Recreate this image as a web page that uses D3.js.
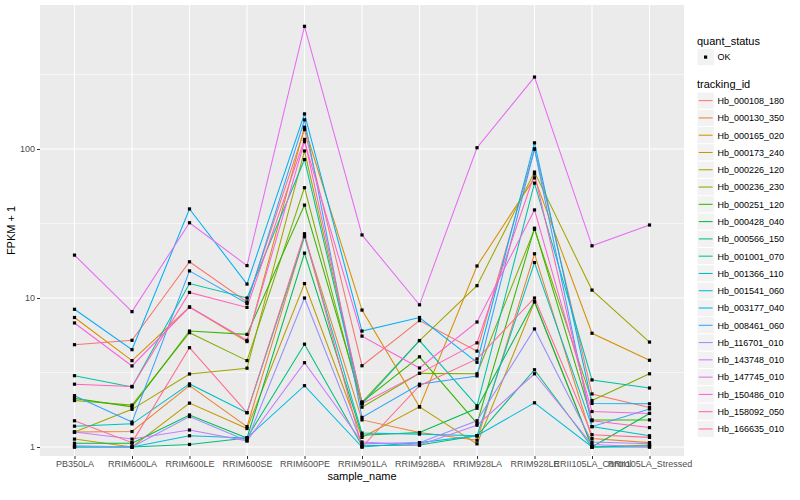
<!DOCTYPE html>
<html>
<head>
<meta charset="utf-8">
<script src="https://cdn.jsdelivr.net/npm/d3@7"></script>
<style>
  body { margin: 0; background: #fff; }
  svg { display: block; font-family: "Liberation Sans", Arial, sans-serif; }
</style>
</head>
<body>
<svg id="chart" width="800" height="500"></svg>
<script>
// samples on the x axis
const samples = ["PB350LA", "RRIM600LA", "RRIM600LE", "RRIM600SE", "RRIM600PE", "RRIM901LA",
  "RRIM928BA", "RRIM928LA", "RRIM928LE", "RRII105LA_Control", "RRII105LA_Stressed"];

const trackingIds = ["Hb_000108_180", "Hb_000130_350", "Hb_000165_020", "Hb_000173_240", "Hb_000226_120",
  "Hb_000236_230", "Hb_000251_120", "Hb_000428_040", "Hb_000566_150", "Hb_001001_070", "Hb_001366_110",
  "Hb_001541_060", "Hb_003177_040", "Hb_008461_060", "Hb_116701_010", "Hb_143748_010", "Hb_147745_010",
  "Hb_150486_010", "Hb_158092_050", "Hb_166635_010"];

// FPKM + 1, one array per tracking_id (same order as samples)
const hb000108_180 = [4.86, 5.2, 17.5, 9.4, 135, 3.51, 7.05, 4.4, 100, 2.27, 1.84];
const hb000130_350 = [1.26, 1.27, 2.58, 1.37, 26, 1.52, 1.25, 1.11, 19.8, 1.14, 1.07];
const hb000165_020 = [7.4, 3.8, 8.7, 5.1, 140, 8.3, 1.86, 16.4, 64, 5.8, 3.82];
const hb000173_240 = [1.13, 1.0, 1.97, 1.33, 12.5, 1.16, 1.86, 1.05, 9.4, 1.0, 1.03];
const hb000226_120 = [1.26, 1.79, 3.09, 3.38, 97, 2.0, 5.18, 12.1, 70, 11.3, 5.06];
const hb000236_230 = [2.05, 1.91, 5.85, 3.8, 55, 1.85, 3.12, 3.1, 28.9, 2.05, 3.1];
const hb000251_120 = [2.12, 1.86, 6.0, 5.7, 42, 2.0, 4.03, 1.44, 29.4, 1.52, 1.52];
const hb000428_040 = [1.06, 1.06, 1.64, 1.15, 20, 1.2, 1.25, 1.82, 9.5, 1.0, 1.68];
const hb000566_150 = [1.0, 1.0, 1.04, 1.15, 4.9, 1.02, 1.03, 1.19, 3.3, 1.0, 1.0];
const hb001001_070 = [3.01, 2.53, 12.5, 10, 85, 1.95, 5.18, 1.89, 59, 2.82, 2.49];
const hb001366_110 = [1.38, 1.43, 2.65, 1.7, 25.8, 1.24, 1.22, 1.19, 17.3, 1.37, 1.19];
const hb001541_060 = [1.0, 1.0, 1.19, 1.15, 2.58, 1.0, 1.07, 1.19, 1.98, 1.0, 1.02];
const hb003177_040 = [8.4, 4.5, 39.6, 12.4, 172, 6.0, 7.4, 3.7, 110, 1.96, 1.95];
const hb008461_060 = [2.21, 1.47, 15.2, 9.2, 157, 1.58, 2.64, 3.0, 100, 1.37, 1.8];
const hb116701_010 = [1.02, 1.0, 1.6, 1.1, 10, 1.05, 1.07, 1.5, 6.2, 1.08, 1.05];
const hb143748_010 = [1.26, 1.13, 1.3, 1.1, 3.68, 1.08, 1.03, 1.4, 3.1, 1.04, 1.0];
const hb147745_010 = [19.4, 8.1, 32, 16.5, 666, 26.5, 9.0, 102, 304, 22.4, 30.9];
const hb150486_010 = [6.8, 3.5, 8.7, 5.2, 112, 5.55, 3.39, 6.9, 39, 1.73, 1.68];
const hb158092_050 = [2.64, 2.55, 10.9, 8.65, 116, 1.95, 3.12, 5.0, 68, 1.5, 1.35];
const hb166635_010 = [1.5, 1.07, 4.64, 1.7, 27, 1.0, 2.58, 3.9, 10, 1.21, 1.16];

const seriesValues = [hb000108_180, hb000130_350, hb000165_020, hb000173_240, hb000226_120,
  hb000236_230, hb000251_120, hb000428_040, hb000566_150, hb001001_070, hb001366_110,
  hb001541_060, hb003177_040, hb008461_060, hb116701_010, hb143748_010, hb147745_010,
  hb150486_010, hb158092_050, hb166635_010];

const yTicks = [1, 10, 100];
const yMinor = [Math.sqrt(10), Math.sqrt(1000), Math.sqrt(100000)];

// ggplot hue palette, 20 levels
const colors = ["#F8766D", "#EA8331", "#D89000", "#C09B00", "#A3A500", "#7CAE00", "#39B600", "#00BB4E",
  "#00BF7D", "#00C1A3", "#00BFC4", "#00BAE0", "#00B0F6", "#35A2FF", "#9590FF", "#C77CFF", "#E76BF3",
  "#FA62DB", "#FF62BC", "#FF6C91"];

const series = trackingIds.map((id, i) => ({
  id: id,
  color: colors[i],
  values: samples.map((s, j) => ({ sample: s, v: seriesValues[i][j] }))
}));

const svg = d3.select("#chart");
const panel = { left: 40, right: 684, top: 5, bottom: 456 };

const x = d3.scalePoint().domain(samples)
  .range([panel.left, panel.right]).padding(0.6);
const y = d3.scaleLog().domain([1, 1000]).range([447, 0]);

// panel background + grid
svg.append("rect")
  .attr("x", panel.left).attr("y", panel.top)
  .attr("width", panel.right - panel.left).attr("height", panel.bottom - panel.top)
  .attr("fill", "#EBEBEB");

const grid = svg.append("g");
yMinor.forEach(t => {
  grid.append("line").attr("x1", panel.left).attr("x2", panel.right)
    .attr("y1", y(t)).attr("y2", y(t)).attr("stroke", "#fff").attr("stroke-width", 0.55);
});
yTicks.forEach(t => {
  grid.append("line").attr("x1", panel.left).attr("x2", panel.right)
    .attr("y1", y(t)).attr("y2", y(t)).attr("stroke", "#fff").attr("stroke-width", 1.1);
});
samples.forEach(s => {
  grid.append("line").attr("x1", x(s)).attr("x2", x(s))
    .attr("y1", panel.top).attr("y2", panel.bottom).attr("stroke", "#fff").attr("stroke-width", 1.1);
});

// lines
const line = d3.line().x(d => x(d.sample)).y(d => y(d.v));
svg.append("g").selectAll("path")
  .data(series)
  .enter()
  .append("path")
  .attr("d", d => line(d.values))
  .attr("fill", "none")
  .attr("stroke", d => d.color)
  .attr("stroke-width", 1.05);

// points
const pts = series.flatMap(d => d.values);
svg.append("g").selectAll("rect")
  .data(pts)
  .enter()
  .append("rect")
  .attr("x", d => x(d.sample) - 1.6)
  .attr("y", d => y(d.v) - 1.6)
  .attr("width", 3.2).attr("height", 3.2)
  .attr("fill", "#000");

// axes
const yAxis = svg.append("g")
  .attr("transform", `translate(${panel.left},0)`)
  .call(d3.axisLeft(y).tickValues(yTicks).tickFormat(d3.format("d")).tickSize(3).tickPadding(2));
const xAxis = svg.append("g")
  .attr("transform", `translate(0,${panel.bottom})`)
  .call(d3.axisBottom(x).tickSize(3).tickPadding(2));
[xAxis, yAxis].forEach(a => {
  a.select(".domain").remove();
  a.selectAll(".tick line").attr("stroke", "#333").attr("stroke-width", 1);
  a.selectAll(".tick text").attr("fill", "#4D4D4D")
    .style("font-size", "9px").style("font-family", "Liberation Sans, Arial, sans-serif");
});

svg.append("text")
  .attr("x", (panel.left + panel.right) / 2).attr("y", 480)
  .attr("text-anchor", "middle").style("font-size", "11px").attr("fill", "#000")
  .text("sample_name");
svg.append("text")
  .attr("transform", `translate(15,${(panel.top + panel.bottom) / 2}) rotate(-90)`)
  .attr("text-anchor", "middle").style("font-size", "11px").attr("fill", "#000")
  .text("FPKM + 1");

// legends
const lg = svg.append("g");
lg.append("text").attr("x", 697).attr("y", 44.5).style("font-size", "11px").text("quant_status");
lg.append("rect").attr("x", 697).attr("y", 48.5).attr("width", 17.3).attr("height", 17.3)
  .attr("fill", "#F2F2F2").attr("stroke", "#fff");
lg.append("rect").attr("x", 704).attr("y", 55.5).attr("width", 3.2).attr("height", 3.2).attr("fill", "#000");
lg.append("text").attr("x", 717.5).attr("y", 60).style("font-size", "9px").text("OK");

lg.append("text").attr("x", 697).attr("y", 88).style("font-size", "11px").text("tracking_id");
const keys = lg.selectAll("g.key")
  .data(series)
  .enter()
  .append("g")
  .attr("class", "key")
  .attr("transform", (d, i) => `translate(697,${92 + i * 17.28})`);
keys.append("rect").attr("width", 17.3).attr("height", 17.3)
  .attr("fill", "#F2F2F2").attr("stroke", "#fff");
keys.append("line").attr("x1", 1.7).attr("x2", 15.6).attr("y1", 8.65).attr("y2", 8.65)
  .attr("stroke", d => d.color).attr("stroke-width", 1.05);
keys.append("text").attr("x", 20.5).attr("y", 12).style("font-size", "9px")
  .text(d => d.id);
</script>
</body>
</html>
